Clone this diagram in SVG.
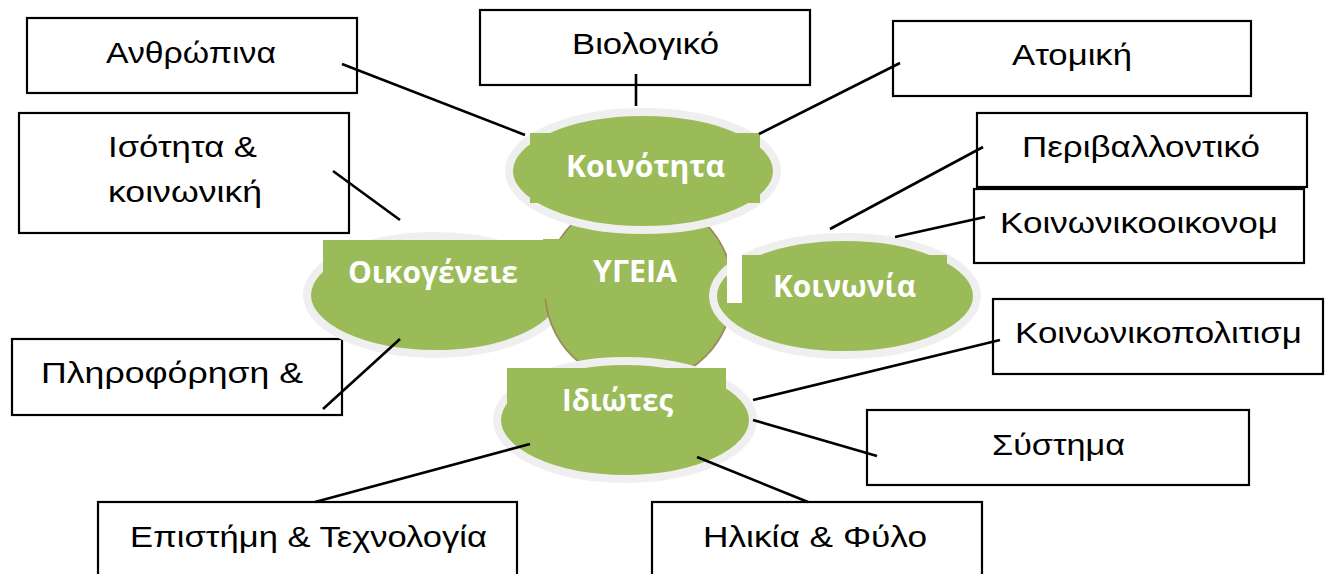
<svg xmlns="http://www.w3.org/2000/svg" width="1334" height="574" viewBox="0 0 1334 574">
<style>
.box{fill:#fff;stroke:#000;stroke-width:2.2}
.t{font-family:"Liberation Sans",Arial,sans-serif;font-size:30px;fill:#000}
.w{font-family:"Open Sans","Liberation Sans",Arial,sans-serif;font-size:30px;font-weight:bold;fill:#fff}
.g{fill:#9bbb59}
.glow{fill:#9bbb59;stroke:#efefef;stroke-width:8}
.c{stroke:#000;stroke-width:2.6;fill:none}
</style>
<rect width="1334" height="574" fill="#fff"/>

<g id="box-anthropina"><rect class="box" x="27" y="18" width="330" height="75"/><text class="t" x="106" y="63" textLength="170" lengthAdjust="spacingAndGlyphs">Ανθρώπινα</text></g>
<g id="box-biologiko"><rect class="box" x="480" y="10" width="330" height="75"/><text class="t" x="572" y="54" textLength="147" lengthAdjust="spacingAndGlyphs">Βιολογικό</text></g>
<g id="box-atomiki"><rect class="box" x="893" y="21" width="358" height="75"/><text class="t" x="1012" y="65" textLength="120" lengthAdjust="spacingAndGlyphs">Ατομική</text></g>
<g id="box-isotita"><rect class="box" x="19" y="113" width="330" height="120"/><text class="t" x="108" y="157" textLength="149" lengthAdjust="spacingAndGlyphs">Ισότητα &amp;</text><text class="t" x="108" y="202" textLength="154" lengthAdjust="spacingAndGlyphs">κοινωνική</text></g>
<g id="box-perivallontiko"><rect class="box" x="977" y="113" width="330" height="74"/><text class="t" x="1022" y="157" textLength="238" lengthAdjust="spacingAndGlyphs">Περιβαλλοντικό</text></g>
<g id="box-koinonikooikonom"><rect class="box" x="974" y="189" width="330" height="74"/><text class="t" x="1000" y="233" textLength="278" lengthAdjust="spacingAndGlyphs">Κοινωνικοοικονομ</text></g>
<g id="box-pliroforisi"><rect class="box" x="12" y="339" width="330" height="76"/><text class="t" x="41" y="383" textLength="262" lengthAdjust="spacingAndGlyphs">Πληροφόρηση &amp;</text></g>
<g id="box-koinonikopolitism"><rect class="box" x="993" y="299" width="330" height="75"/><text class="t" x="1015" y="343" textLength="287" lengthAdjust="spacingAndGlyphs">Κοινωνικοπολιτισμ</text></g>
<g id="box-systima"><rect class="box" x="867" y="410" width="382" height="75"/><text class="t" x="992" y="455" textLength="133" lengthAdjust="spacingAndGlyphs">Σύστημα</text></g>
<g id="box-epistimi"><rect class="box" x="98" y="502" width="419" height="80"/><text class="t" x="130" y="547" textLength="357" lengthAdjust="spacingAndGlyphs">Επιστήμη &amp; Τεχνολογία</text></g>
<g id="box-ilikia"><rect class="box" x="652" y="502" width="330" height="80"/><text class="t" x="703" y="547" textLength="224" lengthAdjust="spacingAndGlyphs">Ηλικία &amp; Φύλο</text></g>

<g id="node-oikogeneies"><ellipse class="glow" cx="435" cy="295" rx="128" ry="59"/><rect class="g" x="323" y="240" width="222" height="70"/><text class="w" x="348" y="283" textLength="170" lengthAdjust="spacingAndGlyphs">Οικογένειε</text></g>
<g id="node-ygeia"><circle cx="639" cy="290" r="94" fill="#9bbb59" stroke="#9c8a5c" stroke-width="1.8"/><rect class="g" x="543" y="239" width="175" height="60"/><text class="w" x="593" y="282" textLength="84" lengthAdjust="spacingAndGlyphs">ΥΓΕΙΑ</text></g>
<g id="node-koinotita"><ellipse class="glow" cx="643" cy="171" rx="134" ry="59"/><rect class="g" x="530" y="133" width="230" height="70"/><text class="w" x="566" y="177" textLength="159" lengthAdjust="spacingAndGlyphs">Κοινότητα</text></g>
<g id="node-koinonia"><ellipse class="glow" cx="845" cy="296" rx="132" ry="59"/><rect x="727" y="255" width="15" height="48" fill="#fff"/><rect class="g" x="742" y="255" width="205" height="70"/><text class="w" x="773" y="297" textLength="143" lengthAdjust="spacingAndGlyphs">Κοινωνία</text></g>
<g id="node-idiotes"><ellipse class="glow" cx="625" cy="420" rx="128" ry="59"/><rect class="g" x="507" y="368" width="219" height="60"/><text class="w" x="562" y="411" textLength="111" lengthAdjust="spacingAndGlyphs">Ιδιώτες</text></g>

<g id="connectors">
<line class="c" x1="342" y1="64" x2="525" y2="135"/>
<line class="c" x1="636" y1="74" x2="636" y2="106"/>
<line class="c" x1="759" y1="134" x2="900" y2="63"/>
<line class="c" x1="333" y1="171" x2="400" y2="220"/>
<line class="c" x1="830" y1="229" x2="983" y2="147"/>
<line class="c" x1="895" y1="237" x2="985" y2="217"/>
<line class="c" x1="400" y1="339" x2="323" y2="409"/>
<line class="c" x1="753" y1="400" x2="1000" y2="340"/>
<line class="c" x1="753" y1="420" x2="877" y2="456"/>
<line class="c" x1="530" y1="444" x2="315" y2="502"/>
<line class="c" x1="697" y1="457" x2="808" y2="502"/>
</g>
</svg>
